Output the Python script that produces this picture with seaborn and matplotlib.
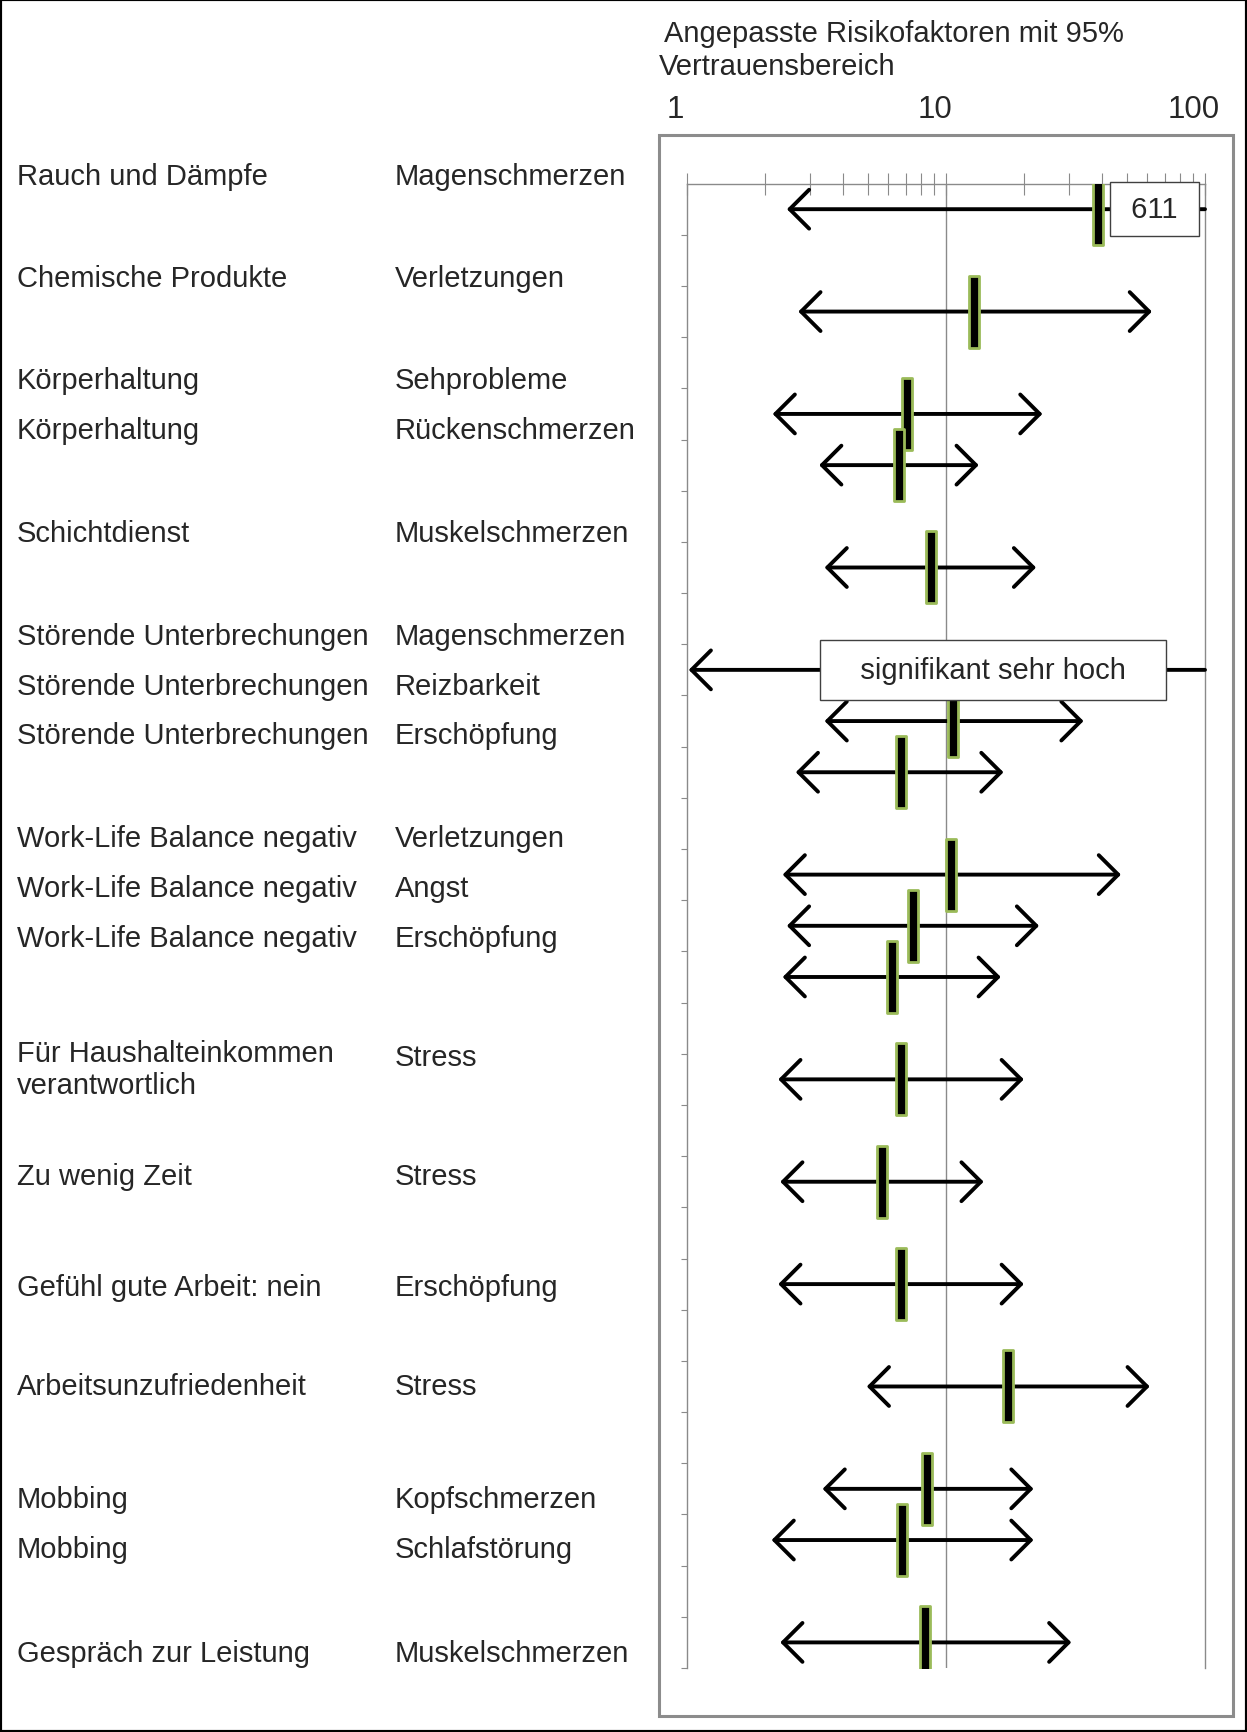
import numpy as np
import matplotlib
matplotlib.use("Agg")
import matplotlib.pyplot as plt
import seaborn as sns
from matplotlib.path import Path
from matplotlib.patches import Rectangle
from matplotlib.ticker import LogLocator, NullFormatter

sns.set_theme(style="white")
plt.rcParams['font.family'] = ['Liberation Sans', 'DejaVu Sans']

# Daten: Risikofaktor, Beschwerde, Odds Ratio mit 95%-KI
factors = ["Rauch und Dämpfe", "Chemische Produkte", "Körperhaltung", "Körperhaltung",
           "Schichtdienst", "Störende Unterbrechungen", "Störende Unterbrechungen",
           "Störende Unterbrechungen", "Work-Life Balance negativ", "Work-Life Balance negativ",
           "Work-Life Balance negativ", "Für Haushalteinkommen\nverantwortlich", "Zu wenig Zeit",
           "Gefühl gute Arbeit: nein", "Arbeitsunzufriedenheit", "Mobbing", "Mobbing",
           "Gespräch zur Leistung"]
outcomes = ["Magenschmerzen", "Verletzungen", "Sehprobleme", "Rückenschmerzen",
            "Muskelschmerzen", "Magenschmerzen", "Reizbarkeit", "Erschöpfung",
            "Verletzungen", "Angst", "Erschöpfung", "Stress", "Stress",
            "Erschöpfung", "Stress", "Kopfschmerzen", "Schlafstörung", "Muskelschmerzen"]
odds = [38.6, 12.8, 7.1, 6.6, 8.8, np.nan, 10.7, 6.7, 10.5, 7.5, 6.2, 6.7, 5.7, 6.7, 17.4, 8.5, 6.8, 8.3]
ci_low = [2.44, 2.70, 2.15, 3.25, 3.41, 1.02, 3.41, 2.64, 2.35, 2.44, 2.35, 2.26, 2.30, 2.26, 4.96, 3.35, 2.13, 2.30]
ci_high = [611, 62.4, 23.6, 13.4, 22.3, np.inf, 34.0, 16.7, 47.4, 22.9, 16.3, 20.0, 14.0, 20.0, 61.2, 21.8, 21.8, 30.5]
x_ticks = [1, 10, 100]

# Layout (Pixel im Originalbild)
W, H = 1247, 1733
label_y_px = [177, 279, 381, 431, 534, 637, 687, 736, 839, 889, 939, 1058, 1177, 1288, 1387, 1500, 1550, 1654]
FS = 21

# Zeilenpositionen: eine Leerzeile zwischen den Faktor-Gruppen
rows = []
slot = 0
for i, f in enumerate(factors):
    if i > 0 and f != factors[i - 1]:
        slot += 2
    elif i > 0:
        slot += 1
    rows.append(slot + 0.5)
n_slots = slot + 1

fig = plt.figure(figsize=(W / 100, H / 100), dpi=100)
fig.patch.set_facecolor("white")
ax = fig.add_axes([686.5 / W, 1 - 1669 / H, (1205 - 686.5) / W, (1669 - 184.6) / H])
ax.set_facecolor("white")

ax.set_xscale("log")
ax.set_xlim(1, 100)
ax.set_ylim(n_slots, 0)

grid_c = "#8a8a8a"
for s in ["left", "right", "top"]:
    ax.spines[s].set_color(grid_c)
    ax.spines[s].set_linewidth(1)
ax.spines["bottom"].set_visible(False)
ax.axvline(10, color=grid_c, lw=1, zorder=1)

ax.xaxis.tick_top()
ax.xaxis.set_major_locator(LogLocator(base=10))
ax.xaxis.set_minor_locator(LogLocator(base=10, subs=np.arange(2, 10)))
ax.xaxis.set_major_formatter(NullFormatter())
ax.xaxis.set_minor_formatter(NullFormatter())
ax.tick_params(axis="x", which="both", direction="inout", length=16, width=0.8, colors=grid_c, top=True, bottom=False)
ax.set_yticks(np.arange(1, n_slots + 1))
ax.set_yticklabels([])
ax.tick_params(axis="y", which="major", direction="out", length=4, width=0.8, colors=grid_c, left=True, right=False)
ax.grid(False)

# Pfeile für die Konfidenzintervalle
for lo, hi, y in zip(ci_low, ci_high, rows):
    if hi <= 100:
        style = "<->,head_length=0.7,head_width=0.7"
        end = hi
    else:
        style = "<-,head_length=0.7,head_width=0.7"
        end = 100
    ax.annotate("", xy=(end, y), xytext=(lo, y),
                arrowprops=dict(arrowstyle=style, lw=2.8, color="black",
                                shrinkA=0, shrinkB=0, mutation_scale=20),
                annotation_clip=False, zorder=3)

# Punktschätzer als Balken-Marker
bar = Path([(-0.075, -0.5), (0.075, -0.5), (0.075, 0.5), (-0.075, 0.5), (-0.075, -0.5)],
           [Path.MOVETO, Path.LINETO, Path.LINETO, Path.LINETO, Path.CLOSEPOLY])
sns.scatterplot(x=odds, y=rows, marker=bar, s=52 ** 2, color="black",
                edgecolor="#9BBB59", linewidth=2.0, zorder=4, ax=ax, legend=False)

# Hinweis-Boxen
ax.text(64, rows[0], " 611 ", ha="center", va="center", fontsize=FS, zorder=6,
        bbox=dict(boxstyle="square,pad=0.45", fc="white", ec="#404040", lw=1))
ax.text(15.2, rows[5], "   signifikant sehr hoch   ", ha="center", va="center", fontsize=FS, zorder=6,
        bbox=dict(boxstyle="square,pad=0.55", fc="white", ec="#404040", lw=1))

# Achsenbeschriftung oben
for v in x_ticks:
    ax.annotate(str(v), xy=(v, 1 - 110 / H), xycoords=("data", "figure fraction"),
                xytext=(-8, 0), textcoords="offset points", ha="center", va="center",
                fontsize=22.5, annotation_clip=False)
fig.text(664 / W, 1 - 34 / H, "Angepasste Risikofaktoren mit 95%", ha="left", va="center", fontsize=FS)
fig.text(659 / W, 1 - 67 / H, "Vertrauensbereich", ha="left", va="center", fontsize=FS)

# Beschriftungen links
for f, o, yp in zip(factors, outcomes, label_y_px):
    if "\n" in f:
        fig.text(16.6 / W, 1 - (yp - 18) / H, f, ha="left", va="top", fontsize=FS, linespacing=1.17)
    else:
        fig.text(16.6 / W, 1 - yp / H, f, ha="left", va="center", fontsize=FS)
    fig.text(394.7 / W, 1 - yp / H, o, ha="left", va="center", fontsize=FS)

# Rahmen
fig.patches.append(Rectangle((659 / W, 1 - 1717 / H), (1233 - 659) / W, (1717 - 136) / H,
                             transform=fig.transFigure, fill=False, ec="#8c8c8c", lw=2.2))
fig.patches.append(Rectangle((0, 0), 1, 1, transform=fig.transFigure, fill=False, ec="black", lw=3))

fig.savefig("out.png", dpi=100)
